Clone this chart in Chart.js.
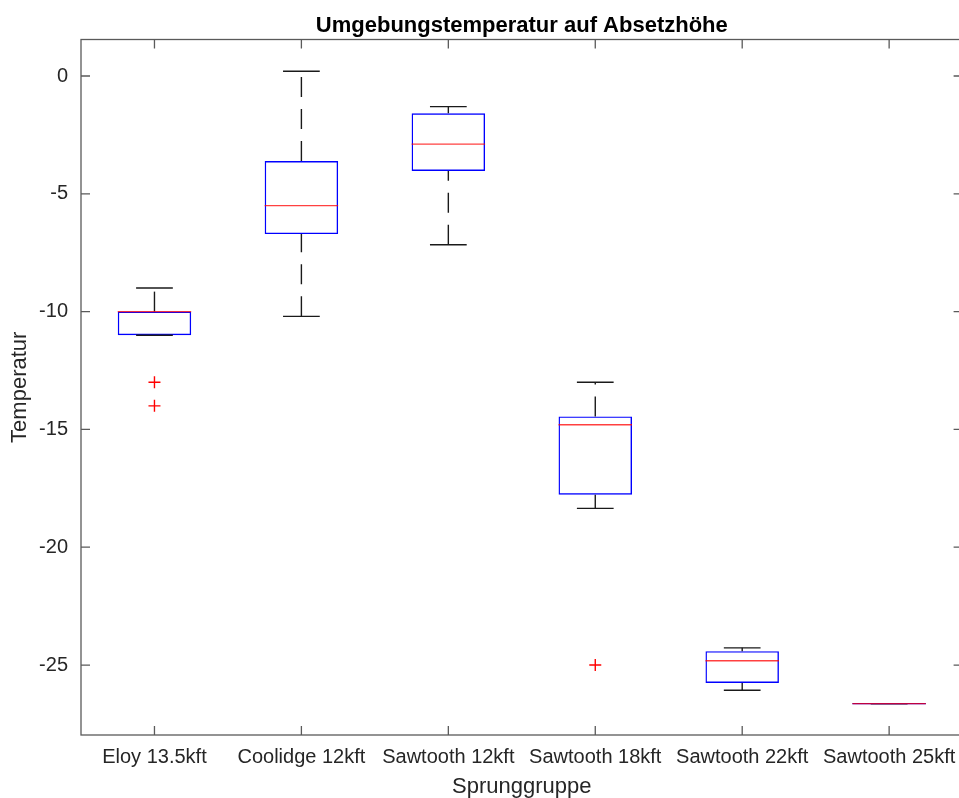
<!DOCTYPE html>
<html>
<head>
<meta charset="utf-8">
<title>Umgebungstemperatur auf Absetzhöhe</title>
<script src="https://cdn.jsdelivr.net/npm/chart.js@4.4.0/dist/chart.umd.min.js"></script>
<style>
    html, body { margin: 0; padding: 0; background: #fff; overflow: hidden; }
    #wrap { width: 970px; height: 798px; }
</style>
</head>
<body>
<div id="wrap"><canvas id="boxChart" width="970" height="798"></canvas></div>
<script>
// Data
const categories = ['Eloy 13.5kft', 'Coolidge 12kft', 'Sawtooth 12kft', 'Sawtooth 18kft', 'Sawtooth 22kft', 'Sawtooth 25kft'];
const lowerWhisker = [-11, -10.2, -7.16, -18.35, -26.07, -26.64];
const quartile1 = [-11, -6.71, -4.03, -17.77, -25.76, -26.64];
const medians = [-10, -5.5, -2.89, -14.8, -24.82, -26.64];
const quartile3 = [-10, -3.61, -1.58, -14.45, -24.41, -26.64];
const upperWhisker = [-9, 0.2, -1.3, -13, -24.27, -26.64];
const outliers = [[-13, -14], [], [], [-25], [], []];
const yTicks = [0, -5, -10, -15, -20, -25];

const FONT = "'Liberation Sans', Arial, Helvetica, sans-serif";
const TEXT = '#262626';
const AXIS = '#5a5a5a';

const outlierPoints = [];
outliers.forEach((vals, i) => vals.forEach(v => outlierPoints.push({ x: categories[i], y: v })));

// Whiskers, caps, medians, frame and inward ticks
const boxPlugin = {
    id: 'boxWhiskers',
    afterDatasetsDraw(chart) {
        const { ctx, chartArea: area, scales: { x, y } } = chart;
        const step = x.getPixelForValue(1) - x.getPixelForValue(0);
        const boxHalf = step * 0.25;
        const capHalf = step * 0.125;

        ctx.save();
        ctx.lineWidth = 1.4;
        categories.forEach((c, i) => {
            const cx = x.getPixelForValue(i);

            // whiskers, dashes run from the lower end upward
            ctx.strokeStyle = '#1a1a1a';
            ctx.setLineDash([20, 12]);
            [[lowerWhisker[i], quartile1[i]], [quartile3[i], upperWhisker[i]]].forEach(([a, b]) => {
                if (a === b) return;
                ctx.beginPath();
                ctx.moveTo(cx, y.getPixelForValue(a));
                ctx.lineTo(cx, y.getPixelForValue(b));
                ctx.stroke();
            });
            ctx.setLineDash([]);

            // caps
            [lowerWhisker[i], upperWhisker[i]].forEach(v => {
                const py = y.getPixelForValue(v);
                ctx.beginPath();
                ctx.moveTo(cx - capHalf, py);
                ctx.lineTo(cx + capHalf, py);
                ctx.stroke();
            });

            // flat box when the quartiles are equal
            if (quartile1[i] === quartile3[i]) {
                const py = y.getPixelForValue(quartile1[i]);
                ctx.strokeStyle = '#0000ff';
                ctx.beginPath();
                ctx.moveTo(cx - boxHalf, py);
                ctx.lineTo(cx + boxHalf, py);
                ctx.stroke();
            }

            // median
            const my = y.getPixelForValue(medians[i]);
            ctx.strokeStyle = 'rgba(255,0,0,0.75)';
            ctx.beginPath();
            ctx.moveTo(cx - boxHalf, my);
            ctx.lineTo(cx + boxHalf, my);
            ctx.stroke();
        });

        // axes box
        ctx.strokeStyle = AXIS;
        ctx.lineWidth = 1.3;
        ctx.strokeRect(area.left, area.top, area.right - area.left, area.bottom - area.top);

        // ticks pointing inward
        const tl = 9;
        ctx.beginPath();
        yTicks.forEach(v => {
            const py = y.getPixelForValue(v);
            ctx.moveTo(area.left, py);
            ctx.lineTo(area.left + tl, py);
            ctx.moveTo(area.right, py);
            ctx.lineTo(area.right - tl, py);
        });
        categories.forEach((c, i) => {
            const px = x.getPixelForValue(i);
            ctx.moveTo(px, area.bottom);
            ctx.lineTo(px, area.bottom - tl);
            ctx.moveTo(px, area.top);
            ctx.lineTo(px, area.top + tl);
        });
        ctx.stroke();

        // title centred over the plot area
        ctx.fillStyle = '#000';
        ctx.font = 'bold 22px ' + FONT;
        ctx.textAlign = 'center';
        ctx.textBaseline = 'alphabetic';
        ctx.fillText('Umgebungstemperatur auf Absetzhöhe', (area.left + area.right) / 2, 32);
        ctx.restore();
    }
};

const ctx = document.getElementById('boxChart').getContext('2d');
const boxChart = new Chart(ctx, {
    type: 'bar',
    data: {
        labels: categories,
        datasets: [
            {
                type: 'bar',
                data: categories.map((c, i) => [quartile1[i], quartile3[i]]),
                backgroundColor: 'rgba(0,0,0,0)',
                borderColor: '#0000ff',
                borderWidth: 1.4,
                borderSkipped: false,
                barPercentage: 0.5,
                categoryPercentage: 1.0,
                order: 2
            },
            {
                type: 'line',
                data: outlierPoints,
                showLine: false,
                pointStyle: 'cross',
                pointRadius: 6,
                pointBorderWidth: 1.4,
                borderColor: '#ff0000',
                backgroundColor: '#ff0000',
                order: 1
            }
        ]
    },
    options: {
        responsive: false,
        animation: false,
        layout: { padding: { top: 39.5, right: 0, bottom: 0, left: 0 } },
        plugins: {
            legend: { display: false },
            title: { display: false },
            tooltip: { enabled: false }
        },
        scales: {
            x: {
                offset: true,
                grid: { display: false, drawTicks: false, tickLength: 0 },
                border: { display: false },
                ticks: {
                    color: TEXT,
                    font: { family: FONT, size: 20 },
                    padding: 10,
                    autoSkip: false,
                    maxRotation: 0
                },
                title: {
                    display: true,
                    text: 'Sprunggruppe',
                    color: TEXT,
                    font: { family: FONT, size: 22, lineHeight: 1.0 },
                    padding: { top: 0, bottom: 0 }
                },
                afterFit(scale) {
                    scale.height = 63;
                    scale.paddingLeft = 0;
                    scale.paddingRight = 0;
                }
            },
            y: {
                min: -27.97,
                max: 1.55,
                grid: { display: false, drawTicks: false, tickLength: 0 },
                border: { display: false },
                ticks: {
                    stepSize: 5,
                    includeBounds: false,
                    color: TEXT,
                    font: { family: FONT, size: 20 },
                    padding: 13
                },
                title: {
                    display: true,
                    text: 'Temperatur',
                    color: TEXT,
                    font: { family: FONT, size: 22 },
                    padding: { top: 7, bottom: 0 }
                },
                afterFit(scale) {
                    scale.width = 81;
                    scale.paddingTop = 0;
                    scale.paddingBottom = 0;
                }
            }
        }
    },
    plugins: [boxPlugin]
});
</script>
</body>
</html>
